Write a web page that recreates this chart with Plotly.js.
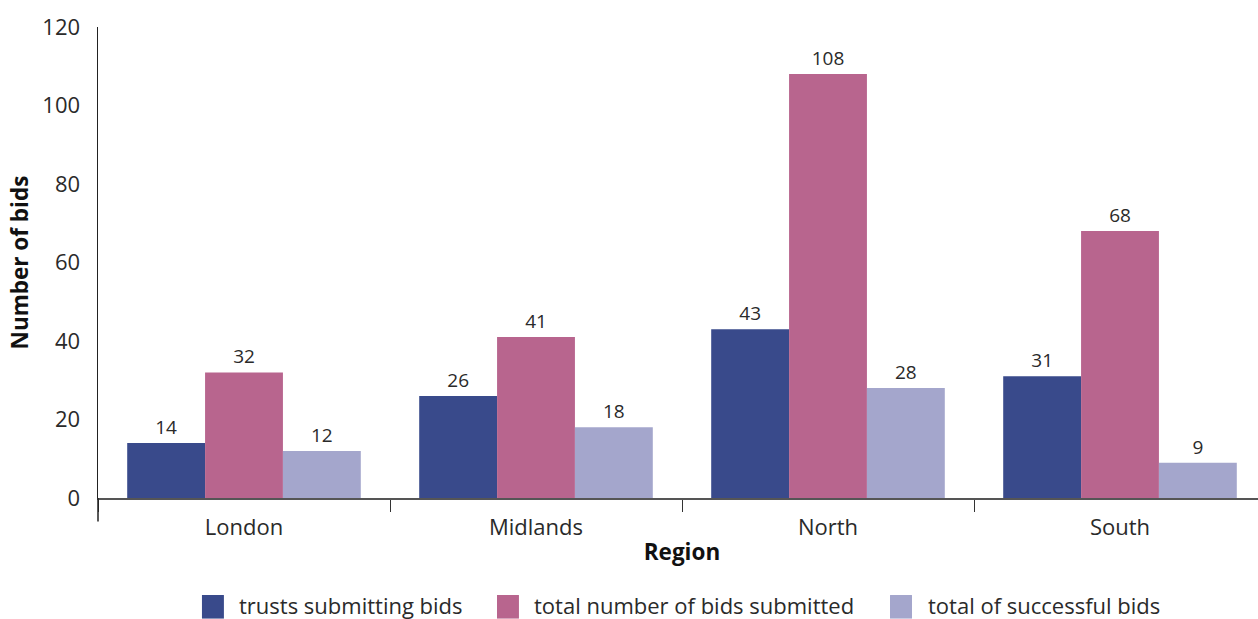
<!DOCTYPE html>
<html>
<head>
<meta charset="utf-8">
<script src="https://cdn.plot.ly/plotly-3.0.1.min.js"></script>
<style>
  html, body { margin: 0; padding: 0; overflow: hidden; background: #fff; }
  #chart { width: 1266px; height: 619px; }
</style>
</head>
<body>
<div id="chart"></div>
<script>
// Bids by NHS region
const regions = ["London", "Midlands", "North", "South"];
const trustsSubmitting = [14, 26, 43, 31];
const bidsSubmitted = [32, 41, 108, 68];
const successfulBids = [12, 18, 28, 9];
const seriesNames = ["trusts submitting bids", "total number of bids submitted", "total of successful bids"];
const seriesColors = ["#394a8b", "#b8658e", "#a4a6cc"];
const yTicks = [0, 20, 40, 60, 80, 100, 120];

const FONT = "'Open Sans', 'Noto Sans', sans-serif";
const TEXT = "#2a2a2a";

function barTrace(values, i) {
  return {
    type: "bar",
    x: regions,
    y: values,
    name: seriesNames[i],
    marker: { color: seriesColors[i], line: { width: 0 } },
    text: values.map(String),
    textposition: "outside",
    cliponaxis: false,
    textfont: { family: FONT, size: 19, color: TEXT },
    hoverinfo: "x+y+name"
  };
}

const data = [
  barTrace(trustsSubmitting, 0),
  barTrace(bidsSubmitted, 1),
  barTrace(successfulBids, 2)
];

// Legend drawn as swatches + labels below the axis title (paper coordinates)
const legendSwatchX = [0.0890, 0.3416, 0.6781];
const legendSwatchW = 0.0188;
const legendTextX = [0.1199, 0.3724, 0.7098];
const legendY0 = -0.2060, legendY1 = -0.2560, legendTextY = -0.2270;

const shapes = [
  // left axis line continues below the baseline
  { type: "line", xref: "paper", yref: "paper", x0: 0, x1: 0, y0: 0, y1: -0.05,
    line: { color: "#222", width: 1.5 } }
];
const annotations = [];
seriesNames.forEach((name, i) => {
  shapes.push({
    type: "rect", xref: "paper", yref: "paper",
    x0: legendSwatchX[i], x1: legendSwatchX[i] + legendSwatchW,
    y0: legendY1, y1: legendY0,
    fillcolor: seriesColors[i], line: { width: 0 }
  });
  annotations.push({
    xref: "paper", yref: "paper", x: legendTextX[i], y: legendTextY,
    xanchor: "left", yanchor: "middle", showarrow: false, borderpad: 0,
    text: name, font: { family: FONT, size: 22, color: TEXT }
  });
});

const layout = {
  width: 1266,
  height: 619,
  margin: { l: 98, r: 0, t: 27, b: 121, pad: 0, autoexpand: false },
  paper_bgcolor: "#fff",
  plot_bgcolor: "#fff",
  font: { family: FONT, size: 22, color: TEXT },
  barmode: "group",
  bargap: 0.2,
  bargroupgap: 0,
  showlegend: false,
  xaxis: {
    type: "category",
    range: [-0.5, 3.5],
    showline: true,
    linecolor: "#555",
    linewidth: 2,
    ticks: "outside",
    tickson: "boundaries",
    ticklen: 12,
    tickcolor: "#333",
    tickwidth: 1,
    ticklabelstandoff: 9,
    showgrid: false,
    zeroline: false,
    automargin: false,
    tickfont: { family: FONT, size: 22, color: TEXT },
    title: { text: "<b>Region</b>", font: { family: FONT, size: 22.5, color: "#111" }, standoff: 4 }
  },
  yaxis: {
    range: [0, 120],
    tickvals: yTicks,
    showline: true,
    linecolor: "#222",
    linewidth: 1.5,
    ticks: "outside",
    ticklen: 12,
    tickcolor: "rgba(0,0,0,0)",
    showgrid: false,
    zeroline: false,
    automargin: false,
    tickfont: { family: FONT, size: 22, color: TEXT },
    title: { text: "<b>Number of bids</b>", font: { family: FONT, size: 22.5, color: "#111" }, standoff: 7 }
  },
  shapes: shapes,
  annotations: annotations
};

Plotly.newPlot("chart", data, layout, { displayModeBar: false, staticPlot: true });
</script>
</body>
</html>
